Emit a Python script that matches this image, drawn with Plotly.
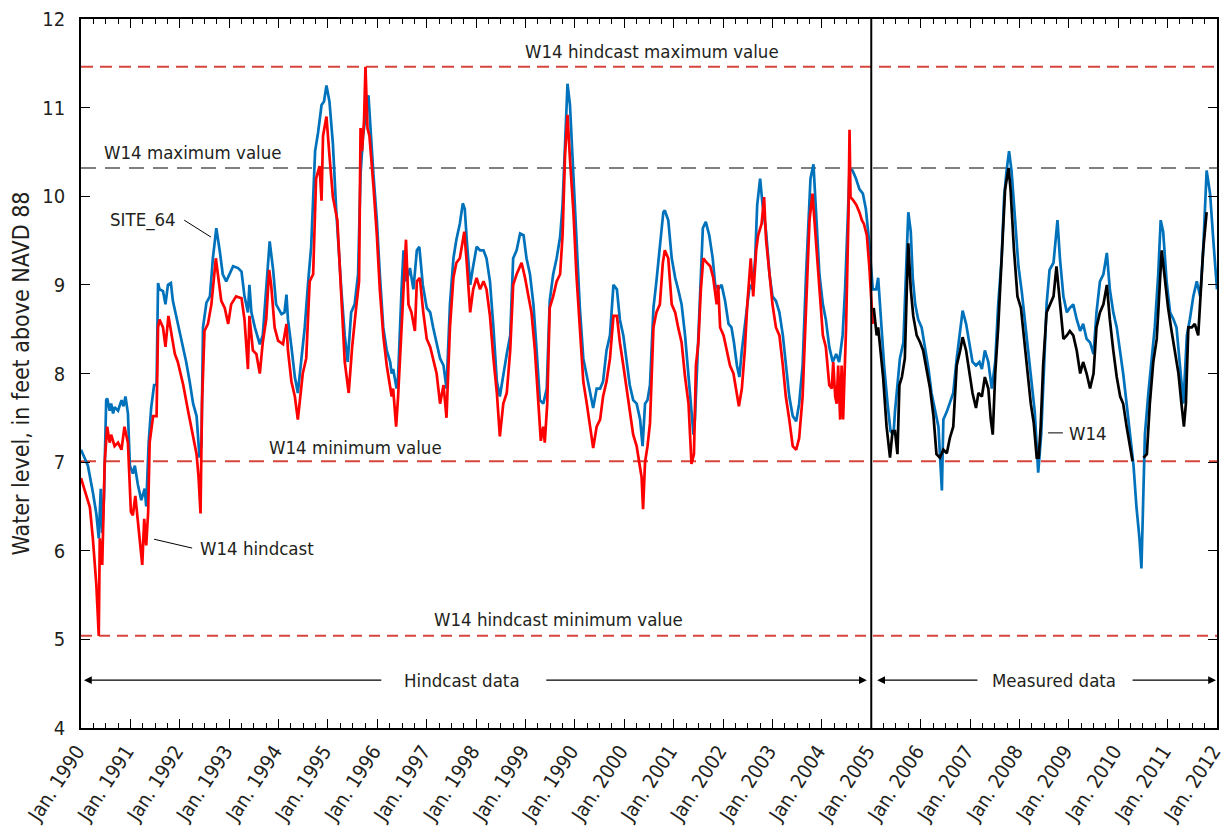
import plotly.graph_objects as go

# Axis positions are in decimal years along the time axis (1989.0 .. 2012.0)
tick_pos = list(range(1989, 2013))
tick_text = ["Jan. 1990", "Jan. 1991", "Jan. 1992", "Jan. 1993", "Jan. 1994",
             "Jan. 1995", "Jan. 1996", "Jan. 1997", "Jan. 1998", "Jan. 1999",
             "Jan. 1990", "Jan. 2000", "Jan. 2001", "Jan. 2002", "Jan. 2003",
             "Jan. 2004", "Jan. 2005", "Jan. 2006", "Jan. 2007", "Jan. 2008",
             "Jan. 2009", "Jan. 2010", "Jan. 2011", "Jan. 2012"]

# SITE_64 water level, feet above NAVD 88
site64_t = [
    1989.00, 1989.14, 1989.24, 1989.31, 1989.36, 1989.40, 1989.43, 1989.465, 1989.51, 1989.53,
    1989.58, 1989.61, 1989.65, 1989.68, 1989.75, 1989.82, 1989.86, 1989.90, 1989.95, 1989.99,
    1990.05, 1990.09, 1990.15, 1990.22, 1990.29, 1990.32, 1990.37, 1990.42, 1990.48, 1990.53,
    1990.56, 1990.59, 1990.66, 1990.71, 1990.76, 1990.82, 1990.86, 1990.93, 1991.03, 1991.13,
    1991.20, 1991.27, 1991.34, 1991.40, 1991.44, 1991.47, 1991.54, 1991.61, 1991.67, 1991.74,
    1991.81, 1991.87, 1991.94, 1992.01, 1992.08, 1992.18, 1992.25, 1992.31, 1992.38, 1992.41,
    1992.45, 1992.52, 1992.62, 1992.68, 1992.75, 1992.82, 1992.89, 1992.95, 1993.06, 1993.12,
    1993.16, 1993.19, 1993.26, 1993.33, 1993.39, 1993.46, 1993.53, 1993.60, 1993.66, 1993.74,
    1993.80, 1993.87, 1993.92, 1993.97, 1994.03, 1994.10, 1994.17, 1994.27, 1994.34, 1994.40,
    1994.47, 1994.54, 1994.61, 1994.66, 1994.71, 1994.78, 1994.82, 1994.92, 1994.99, 1995.05,
    1995.12, 1995.19, 1995.26, 1995.29, 1995.32, 1995.39, 1995.42, 1995.49, 1995.53, 1995.59,
    1995.66, 1995.73, 1995.80, 1995.85, 1995.92, 1996.00, 1996.07, 1996.13, 1996.20, 1996.27,
    1996.34, 1996.40, 1996.47, 1996.54, 1996.60, 1996.67, 1996.73, 1996.77, 1996.81, 1996.88,
    1996.94, 1997.01, 1997.08, 1997.15, 1997.21, 1997.28, 1997.35, 1997.42, 1997.48, 1997.55,
    1997.62, 1997.69, 1997.75, 1997.82, 1997.89, 1997.96, 1998.02, 1998.09, 1998.16, 1998.22,
    1998.29, 1998.36, 1998.43, 1998.49, 1998.56, 1998.63, 1998.70, 1998.75, 1998.80, 1998.85,
    1998.90, 1998.97, 1999.03, 1999.10, 1999.17, 1999.24, 1999.30, 1999.37, 1999.44, 1999.51,
    1999.57, 1999.64, 1999.71, 1999.78, 1999.85, 1999.91, 1999.98, 2000.05, 2000.11, 2000.18,
    2000.25, 2000.32, 2000.37, 2000.42, 2000.47, 2000.52, 2000.59, 2000.65, 2000.72, 2000.79,
    2000.82, 2000.89, 2000.96, 2001.03, 2001.09, 2001.16, 2001.23, 2001.30, 2001.36, 2001.40,
    2001.43, 2001.47, 2001.50, 2001.53, 2001.59, 2001.65, 2001.72, 2001.79, 2001.84, 2001.90,
    2001.97, 2002.04, 2002.11, 2002.17, 2002.22, 2002.28, 2002.33, 2002.38, 2002.44, 2002.49,
    2002.54, 2002.60, 2002.65, 2002.69, 2002.75, 2002.80, 2002.87, 2002.94, 2003.00, 2003.07,
    2003.14, 2003.21, 2003.27, 2003.34, 2003.41, 2003.48, 2003.54, 2003.61, 2003.68, 2003.73,
    2003.77, 2003.83, 2003.88, 2003.95, 2004.02, 2004.08, 2004.15, 2004.22, 2004.29, 2004.35,
    2004.42, 2004.47, 2004.52, 2004.56, 2004.62, 2004.69, 2004.76, 2004.83, 2004.89, 2004.96,
    2005.03, 2005.10, 2005.14, 2005.19, 2005.26, 2005.33, 2005.39, 2005.45, 2005.48, 2005.53,
    2005.58, 2005.65, 2005.70, 2005.75, 2005.80, 2005.84, 2005.89, 2005.95, 2006.02, 2006.09,
    2006.16, 2006.22, 2006.29, 2006.36, 2006.43, 2006.46, 2006.53, 2006.59, 2006.66, 2006.73,
    2006.80, 2006.85, 2006.92, 2006.99, 2007.05, 2007.12, 2007.19, 2007.24, 2007.30, 2007.37,
    2007.44, 2007.51, 2007.57, 2007.64, 2007.69, 2007.74, 2007.79, 2007.84, 2007.91, 2007.98,
    2008.05, 2008.11, 2008.18, 2008.25, 2008.31, 2008.38, 2008.44, 2008.50, 2008.55, 2008.61,
    2008.69, 2008.77, 2008.82, 2008.89, 2008.96, 2009.02, 2009.09, 2009.16, 2009.23, 2009.29,
    2009.36, 2009.43, 2009.50, 2009.56, 2009.63, 2009.70, 2009.77, 2009.83, 2009.90, 2009.97,
    2010.04, 2010.10, 2010.17, 2010.24, 2010.31, 2010.37, 2010.43, 2010.47, 2010.51, 2010.54,
    2010.61, 2010.68, 2010.74, 2010.81, 2010.86, 2010.91, 2010.98, 2011.05, 2011.12, 2011.18,
    2011.25, 2011.32, 2011.39, 2011.45, 2011.52, 2011.59, 2011.66, 2011.72, 2011.79, 2011.86,
    2011.93, 2011.97, 2012.00]
site64_ft = [
    7.14, 6.96, 6.66, 6.42, 6.14, 6.70, 6.20, 6.60, 7.70, 7.72,
    7.58, 7.66, 7.55, 7.62, 7.58, 7.70, 7.63, 7.74, 7.55, 6.96,
    6.87, 6.96, 6.75, 6.57, 6.70, 6.50, 7.22, 7.61, 7.87, 7.87,
    9.02, 8.95, 8.93, 8.78, 9.00, 9.02, 8.82, 8.65, 8.39, 8.13,
    7.91, 7.66, 7.52, 7.05, 7.22, 8.52, 8.80, 8.87, 9.30, 9.64,
    9.38, 9.12, 9.04, 9.12, 9.21, 9.19, 9.15, 8.87, 8.69, 9.00,
    8.69, 8.52, 8.33, 8.43, 8.95, 9.49, 9.17, 8.78, 8.67, 8.69,
    8.89, 8.61, 8.30, 7.96, 7.78, 8.13, 8.52, 9.04, 9.43, 10.51,
    10.72, 11.03, 11.07, 11.25, 11.07, 10.59, 9.82, 8.95, 8.43, 8.13,
    8.69, 8.78, 9.12, 10.25, 10.68, 10.98, 11.14, 10.25, 9.73, 9.12,
    8.52, 8.26, 8.13, 8.00, 8.05, 7.83, 7.96, 8.95, 9.39, 9.04,
    9.19, 8.95, 9.39, 9.43, 9.00, 8.74, 8.69, 8.52, 8.35, 8.17,
    8.09, 7.83, 8.78, 9.30, 9.51, 9.69, 9.92, 9.86, 9.51, 9.00,
    9.21, 9.43, 9.39, 9.39, 9.30, 9.04, 8.52, 7.91, 7.74, 8.00,
    8.22, 8.43, 9.30, 9.39, 9.58, 9.56, 9.30, 9.12, 8.78, 8.30,
    7.70, 7.66, 7.83, 8.82, 9.12, 9.30, 9.54, 9.90, 10.68, 11.27,
    11.03, 10.25, 9.47, 8.74, 8.17, 7.96, 7.78, 7.61, 7.83, 7.83,
    7.91, 8.26, 8.43, 9.00, 8.95, 8.61, 8.43, 8.13, 7.87, 7.70,
    7.66, 7.48, 7.18, 7.66, 7.70, 7.87, 8.74, 9.04, 9.47, 9.82,
    9.84, 9.73, 9.30, 9.08, 8.95, 8.78, 8.43, 7.96, 7.52, 7.31,
    7.48, 8.00, 8.52, 8.87, 9.64, 9.71, 9.56, 9.30, 9.00, 8.95,
    9.00, 8.82, 8.56, 8.52, 8.35, 8.09, 7.96, 8.26, 8.52, 8.78,
    9.00, 8.95, 9.30, 9.90, 10.20, 9.90, 9.60, 9.12, 8.87, 8.82,
    8.69, 8.43, 8.09, 7.74, 7.52, 7.46, 7.66, 8.09, 9.12, 9.82,
    10.20, 10.36, 9.82, 9.12, 8.78, 8.61, 8.30, 8.13, 8.22, 8.13,
    8.43, 8.95, 9.69, 10.31, 10.29, 10.20, 10.08, 10.03, 9.86, 9.47,
    8.95, 8.95, 9.08, 8.61, 8.09, 7.66, 7.35, 7.31, 7.57, 7.87,
    8.17, 8.35, 9.12, 9.82, 9.60, 9.08, 8.78, 8.61, 8.52, 8.30,
    8.05, 7.78, 7.57, 7.40, 6.68, 7.48, 7.57, 7.66, 7.78, 8.17,
    8.52, 8.71, 8.56, 8.35, 8.13, 8.09, 8.13, 8.05, 8.26, 8.13,
    7.83, 8.13, 8.78, 9.30, 9.99, 10.29, 10.51, 10.29, 9.73, 9.21,
    8.91, 8.61, 8.26, 7.91, 7.57, 6.88, 7.31, 8.09, 8.78, 9.17,
    9.25, 9.73, 9.30, 8.87, 8.69, 8.74, 8.78, 8.61, 8.48, 8.56,
    8.39, 8.35, 8.22, 8.69, 9.04, 9.12, 9.36, 8.95, 8.69, 8.52,
    8.26, 8.00, 7.66, 7.31, 6.96, 6.49, 6.14, 5.80, 6.57, 7.31,
    7.78, 8.17, 8.52, 9.12, 9.73, 9.60, 9.04, 8.69, 8.61, 8.52,
    8.09, 7.66, 8.43, 8.61, 8.87, 9.04, 8.87, 9.39, 10.29, 10.03,
    9.47, 9.20, 8.95]

# W14 hindcast water level, feet above NAVD 88
hind_t = [
    1989.00, 1989.07, 1989.18, 1989.24, 1989.31, 1989.36, 1989.38, 1989.43, 1989.48, 1989.53,
    1989.58, 1989.61, 1989.68, 1989.75, 1989.82, 1989.88, 1989.95, 1990.01, 1990.05, 1990.10,
    1990.15, 1990.24, 1990.28, 1990.32, 1990.36, 1990.39, 1990.46, 1990.53, 1990.56, 1990.59,
    1990.66, 1990.71, 1990.77, 1990.83, 1990.90, 1990.96, 1991.07, 1991.17, 1991.27, 1991.34,
    1991.38, 1991.42, 1991.45, 1991.50, 1991.57, 1991.64, 1991.73, 1991.77, 1991.84, 1991.91,
    1991.98, 1992.04, 1992.14, 1992.25, 1992.31, 1992.38, 1992.41, 1992.48, 1992.55, 1992.62,
    1992.68, 1992.75, 1992.81, 1992.85, 1992.92, 1992.99, 1993.09, 1993.16, 1993.19, 1993.26,
    1993.33, 1993.39, 1993.45, 1993.49, 1993.56, 1993.63, 1993.70, 1993.76, 1993.83, 1993.87,
    1993.90, 1993.97, 1994.03, 1994.10, 1994.19, 1994.27, 1994.34, 1994.42, 1994.49, 1994.57,
    1994.63, 1994.66, 1994.69, 1994.73, 1994.76, 1994.80, 1994.84, 1994.92, 1994.99, 1995.05,
    1995.12, 1995.19, 1995.26, 1995.29, 1995.32, 1995.38, 1995.42, 1995.49, 1995.53, 1995.58,
    1995.63, 1995.69, 1995.76, 1995.80, 1995.86, 1995.93, 1996.00, 1996.07, 1996.13, 1996.20,
    1996.27, 1996.34, 1996.40, 1996.47, 1996.54, 1996.60, 1996.67, 1996.76, 1996.81, 1996.88,
    1996.94, 1997.01, 1997.08, 1997.15, 1997.21, 1997.28, 1997.35, 1997.42, 1997.48, 1997.55,
    1997.62, 1997.69, 1997.75, 1997.82, 1997.92, 1997.99, 1998.06, 1998.12, 1998.19, 1998.26,
    1998.31, 1998.36, 1998.39, 1998.44, 1998.49, 1998.56, 1998.63, 1998.70, 1998.75, 1998.80,
    1998.85, 1998.90, 1998.97, 1999.03, 1999.10, 1999.17, 1999.24, 1999.30, 1999.37, 1999.44,
    1999.51, 1999.57, 1999.64, 1999.71, 1999.78, 1999.85, 1999.91, 1999.98, 2000.05, 2000.11,
    2000.18, 2000.25, 2000.30, 2000.35, 2000.38, 2000.42, 2000.47, 2000.52, 2000.59, 2000.65,
    2000.72, 2000.78, 2000.82, 2000.89, 2000.96, 2001.03, 2001.09, 2001.16, 2001.23, 2001.30,
    2001.36, 2001.41, 2001.45, 2001.50, 2001.55, 2001.60, 2001.67, 2001.74, 2001.80, 2001.87,
    2001.90, 2001.94, 2002.01, 2002.07, 2002.14, 2002.21, 2002.28, 2002.32, 2002.38, 2002.44,
    2002.49, 2002.56, 2002.61, 2002.67, 2002.71, 2002.78, 2002.83, 2002.87, 2002.94, 2003.00,
    2003.07, 2003.14, 2003.21, 2003.27, 2003.34, 2003.41, 2003.48, 2003.54, 2003.61, 2003.68,
    2003.75, 2003.81, 2003.88, 2003.95, 2004.02, 2004.08, 2004.15, 2004.20, 2004.23, 2004.27,
    2004.30, 2004.33, 2004.37, 2004.40, 2004.43, 2004.49, 2004.54, 2004.56, 2004.58, 2004.64,
    2004.70, 2004.76, 2004.81, 2004.85, 2004.91, 2004.96, 2005.03]
hind_ft = [
    6.82, 6.70, 6.49, 6.14, 5.62, 5.04, 6.14, 5.84, 7.00, 7.40,
    7.22, 7.31, 7.18, 7.22, 7.14, 7.40, 7.22, 6.44, 6.40, 6.62,
    6.36, 5.84, 6.36, 6.06, 6.44, 7.22, 7.52, 7.52, 8.52, 8.61,
    8.52, 8.30, 8.65, 8.43, 8.22, 8.13, 7.87, 7.57, 7.27, 7.09,
    6.83, 6.42, 7.66, 8.48, 8.56, 8.78, 9.30, 9.12, 8.82, 8.74,
    8.56, 8.78, 8.87, 8.85, 8.61, 8.05, 8.65, 8.26, 8.22, 8.00,
    8.35, 8.61, 9.17, 9.00, 8.52, 8.37, 8.33, 8.56, 8.26, 7.91,
    7.74, 7.48, 7.78, 8.00, 8.17, 9.04, 9.12, 10.20, 10.34, 9.95,
    10.68, 10.90, 10.46, 9.99, 9.73, 8.95, 8.13, 7.78, 8.30, 8.74,
    9.04, 10.77, 10.51, 10.85, 11.46, 10.77, 10.68, 10.12, 9.56, 8.95,
    8.43, 8.09, 7.83, 7.74, 7.83, 7.40, 7.74, 8.43, 8.95, 9.51,
    8.78, 8.69, 8.48, 9.04, 9.08, 8.69, 8.39, 8.30, 8.17, 8.00,
    7.66, 7.87, 7.50, 8.52, 9.08, 9.25, 9.30, 9.60, 9.25, 8.69,
    8.95, 9.08, 8.95, 9.04, 8.95, 8.65, 8.17, 7.78, 7.29, 7.66,
    7.78, 8.26, 9.00, 9.12, 9.25, 9.08, 8.87, 8.69, 8.26, 7.66,
    7.24, 7.40, 7.22, 7.66, 8.74, 8.87, 9.04, 9.12, 9.56, 10.46,
    10.92, 10.42, 9.82, 9.12, 8.52, 7.91, 7.66, 7.44, 7.16, 7.40,
    7.48, 7.74, 7.91, 8.17, 8.65, 8.65, 8.35, 8.09, 7.83, 7.57,
    7.31, 7.18, 7.00, 6.83, 6.47, 7.00, 7.18, 7.44, 8.52, 8.69,
    8.78, 9.25, 9.39, 9.30, 8.78, 8.69, 8.52, 8.35, 7.96, 7.66,
    6.98, 7.09, 8.09, 8.35, 8.95, 9.30, 9.25, 9.21, 9.08, 8.78,
    9.00, 8.52, 8.43, 8.26, 8.09, 8.00, 7.74, 7.63, 7.83, 8.26,
    8.78, 9.30, 8.87, 9.39, 9.56, 9.69, 9.99, 9.51, 9.12, 8.78,
    8.52, 8.43, 8.09, 7.74, 7.48, 7.18, 7.14, 7.27, 7.74, 8.74,
    9.73, 10.03, 9.47, 8.87, 8.43, 8.30, 7.87, 7.83, 8.13, 7.74,
    7.66, 8.09, 7.48, 8.09, 7.48, 8.52, 9.82, 10.75, 9.99, 9.95,
    9.90, 9.82, 9.73, 9.69, 9.56, 9.21, 8.56]

# W14 measured water level, feet above NAVD 88 (None = no record)
w14_t = [
    2005.05, 2005.11, 2005.14, 2005.19, 2005.24, 2005.31, 2005.38, 2005.43, 2005.48, 2005.53,
    2005.57, 2005.62, 2005.68, 2005.72, 2005.75, 2005.80, 2005.85, 2005.92, 2005.99, 2006.05,
    2006.12, 2006.19, 2006.26, 2006.32, 2006.39, 2006.46, 2006.53, 2006.59, 2006.66, 2006.73,
    2006.80, 2006.85, 2006.92, 2006.99, 2007.05, 2007.12, 2007.17, 2007.24, 2007.30, 2007.37,
    2007.42, 2007.46, 2007.51, 2007.57, 2007.64, 2007.71, 2007.78, 2007.82, 2007.89, 2007.96,
    2008.03, 2008.09, 2008.16, 2008.23, 2008.29, 2008.35, 2008.39, 2008.43, 2008.48, 2008.55,
    2008.62, 2008.69, 2008.75, 2008.82, 2008.89, 2008.96, 2009.02, 2009.09, 2009.16, 2009.23,
    2009.29, 2009.36, 2009.43, 2009.50, 2009.56, 2009.63, 2009.70, 2009.77, 2009.83, 2009.90,
    2009.97, 2010.04, 2010.10, 2010.17, 2010.24, 2010.29, 2010.40, 2010.51, 2010.58, 2010.64,
    2010.71, 2010.78, 2010.85, 2010.88, 2010.95, 2011.01, 2011.08, 2011.15, 2011.22, 2011.28,
    2011.33, 2011.37, 2011.42, 2011.49, 2011.55, 2011.62, 2011.66, 2011.72, 2011.79]
w14_ft = [
    8.74, 8.43, 8.52, 8.26, 7.96, 7.40, 7.05, 7.35, 7.35, 7.09,
    7.87, 7.96, 8.17, 8.95, 9.47, 8.95, 8.65, 8.43, 8.35, 8.26,
    8.05, 7.83, 7.52, 7.09, 7.05, 7.14, 7.10, 7.27, 7.40, 8.09,
    8.26, 8.41, 8.26, 8.00, 7.78, 7.61, 7.78, 7.74, 7.96, 7.83,
    7.48, 7.31, 8.00, 8.52, 9.30, 10.08, 10.32, 10.08, 9.39, 8.87,
    8.74, 8.43, 8.09, 7.66, 7.44, 7.05, 7.05, 7.40, 8.09, 8.69,
    8.78, 8.87, 9.21, 8.78, 8.39, 8.43, 8.48, 8.43, 8.26, 8.00,
    8.13, 8.00, 7.83, 8.00, 8.52, 8.69, 8.78, 9.00, 8.61, 8.26,
    7.96, 7.74, 7.66, 7.40, 7.18, 7.01, None, 7.05, 7.09, 7.66,
    8.13, 8.39, 9.04, 9.39, 9.04, 8.74, 8.48, 8.26, 8.00, 7.66,
    7.40, 7.66, 8.52, 8.52, 8.56, 8.43, 8.78, 9.39, 9.82]

hind_end = 2005.0

w14_vals = [v for v in w14_ft if v is not None]
ref_lines = [
    (max(hind_ft), "rgb(214,69,60)", "12px,7px"),
    (max(w14_vals), "rgb(128,128,128)", "15px,9px"),
    (min(w14_vals), "rgb(214,69,60)", "15px,9px"),
    (min(hind_ft), "rgb(214,69,60)", "11px,7px"),
]

FONT = "DejaVu Sans Condensed, DejaVu Sans, sans-serif"
TXT = "#231f20"

fig = go.Figure()
fig.add_trace(go.Scatter(x=site64_t, y=site64_ft, mode="lines", name="SITE_64",
                         line=dict(color="#0072bc", width=2.7)))
fig.add_trace(go.Scatter(x=hind_t, y=hind_ft, mode="lines", name="W14 hindcast",
                         line=dict(color="#ff0000", width=2.7)))
fig.add_trace(go.Scatter(x=w14_t, y=w14_ft, mode="lines", name="W14",
                         line=dict(color="#000000", width=2.7), connectgaps=False))
# empty trace that carries the top (mirrored) time axis
fig.add_trace(go.Scatter(x=[None], y=[None], xaxis="x2", mode="lines",
                         hoverinfo="skip", showlegend=False))

for yv, col, dash in ref_lines:
    fig.add_shape(type="line", xref="paper", yref="y", x0=0, x1=1, y0=yv, y1=yv,
                  line=dict(color=col, width=2, dash=dash), layer="below")

# boundary between hindcast and measured records
fig.add_shape(type="line", xref="x", yref="paper", x0=hind_end, x1=hind_end, y0=0, y1=1,
              line=dict(color="black", width=2))

def label(x, y, text, anchor="center"):
    fig.add_annotation(x=x, y=y, text=text, showarrow=False, xanchor=anchor,
                       yanchor="middle", font=dict(family=FONT, size=18.5, color=TXT))

def leader(x0, y0, x1, y1):
    fig.add_shape(type="line", x0=x0, y0=y0, x1=x1, y1=y1,
                  line=dict(color="black", width=1))

label(2000.56, 11.63, "W14 hindcast maximum value")
label(1989.43, 10.49, "W14 maximum value", "left")
label(1992.77, 7.17, "W14 minimum value", "left")
label(1998.66, 5.22, "W14 hindcast minimum value")
label(1990.26, 9.73, "SITE_64")
leader(1991.09, 9.73, 1991.63, 9.54)
label(1991.37, 6.02, "W14 hindcast", "left")
leader(1990.48, 6.13, 1991.25, 6.03)
label(2008.96, 7.32, "W14", "left")
leader(2008.58, 7.33, 2008.88, 7.33)

label(1996.71, 4.54, "Hindcast data")
label(2008.70, 4.54, "Measured data")

def arrow(x_from, x_to, y=4.54):
    fig.add_annotation(x=x_to, y=y, ax=x_from, ay=y, xref="x", yref="y",
                       axref="x", ayref="y", text="", showarrow=True,
                       arrowhead=2, arrowsize=1.3, arrowwidth=1.2, arrowcolor="black")

arrow(1995.11, 1989.06)
arrow(1998.39, 2004.91)
arrow(2007.18, 2005.12)
arrow(2010.26, 2011.98)

fig.add_annotation(xref="paper", yref="paper", x=0, y=0.5, xshift=-61, xanchor="center",
                   yanchor="middle", text="Water level, in feet above NAVD 88", textangle=-90,
                   showarrow=False, font=dict(family=FONT, size=23, color=TXT))

minor_ticks = dict(tick0=1989, dtick=0.25, ticks="inside", ticklen=5,
                   tickwidth=1, tickcolor="black", showgrid=False)

fig.update_layout(
    xaxis=dict(range=[1989, 2012], tickmode="array", tickvals=tick_pos, ticktext=tick_text,
               tickangle=-57, ticks="inside", ticklen=9, tickwidth=1.2, tickcolor="black",
               showline=True, linecolor="black", linewidth=1.5, mirror=True,
               showgrid=False, zeroline=False, ticklabeloverflow="allow", automargin=False,
               ticklabelstandoff=2, ticklabelshift=-4,
               tickfont=dict(family=FONT, size=20, color=TXT), minor=minor_ticks),
    xaxis2=dict(range=[1989, 2012], overlaying="x", side="top", tickmode="array",
                tickvals=tick_pos, showticklabels=False, ticks="inside", ticklen=9,
                tickwidth=1.2, tickcolor="black", showline=False, showgrid=False,
                zeroline=False, automargin=False, minor=minor_ticks),
    yaxis=dict(range=[4, 12], dtick=1, ticks="inside", ticklen=9, tickwidth=1.2,
               tickcolor="black", showline=True, linecolor="black", linewidth=1.5,
               mirror="ticks", showgrid=False, zeroline=False, ticklabelstandoff=10,
               automargin=False, tickfont=dict(family=FONT, size=20, color=TXT)),
    width=1226, height=827, margin=dict(l=81, r=9, t=19, b=99, autoexpand=False),
    plot_bgcolor="white", paper_bgcolor="white", showlegend=False,
)

fig.write_html("out.html")
